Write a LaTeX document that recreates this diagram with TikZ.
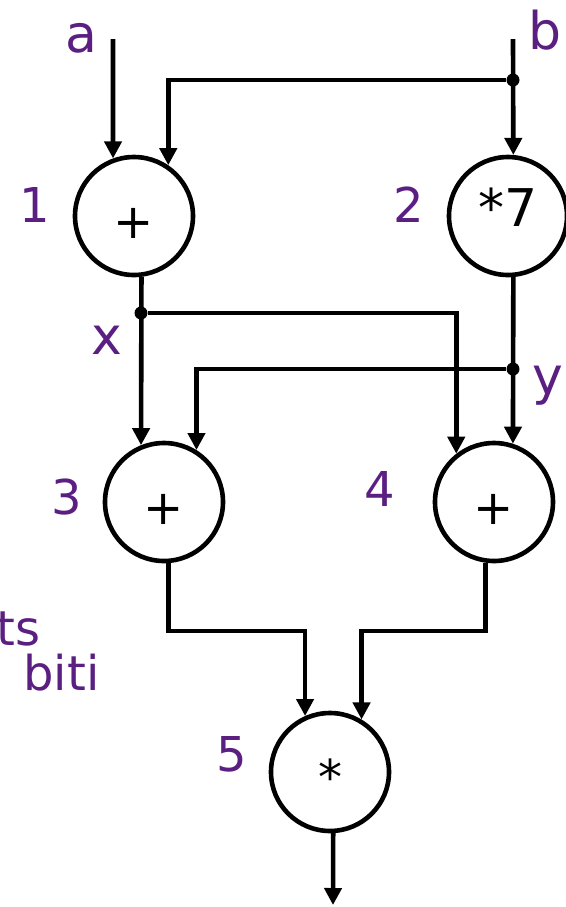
\documentclass[tikz,border=0pt]{standalone}
\usepackage{fontspec}
\setmainfont{DejaVu Sans}
\usetikzlibrary{arrows.meta, positioning, calc}
\definecolor{Plum}{HTML}{5B1F82}

\begin{document}
\begin{tikzpicture}[x=0.5pt, y=-0.5pt,
    op/.style={circle, draw, line width=2.3pt, minimum size=59pt, inner sep=0pt,
               font=\fontsize{24}{28}\selectfont},
    wire/.style={line width=2.3pt},
    feed/.style={wire, -{Triangle[length=8.5pt,width=8.5pt]}},
    dot/.style={circle, fill, inner sep=0pt, minimum size=6.5pt},
    tag/.style={text=Plum, inner sep=0pt, font=\fontsize{24}{28}\selectfont},
    var/.style={text=Plum, inner sep=0pt, font=\fontsize{26}{30}\selectfont}]
    \clip (0,0) rectangle (566,907);

    % Operations
    \node[op, text height=22pt, text depth=0pt] (c1) at (134,216) {+};
    \node[op, font=\fontsize{26}{30}\selectfont, text height=19.5pt, text depth=9.5pt] (c2) at (508,216) {*7};
    \node[op, text height=22pt, text depth=0pt] (c3) at (164,502) {+};
    \node[op, text height=22pt, text depth=0pt] (c4) at (494,502) {+};
    \node[op, text height=22.4pt, text depth=0pt] (c5) at (330,772) {*};

    % Step numbers
    \node[tag] (n1) at (35,205) {1};
    \node[tag] (n2) at (409,205) {2};
    \node[tag] (n3) at (67,497) {3};
    \node[tag] (n4) at (380,489) {4};
    \node[tag] (n5) at (232,754) {5};

    % Variables
    \node[var] (la) at (81,38) {a};
    \node[var] (lb) at (545,30) {b};
    \node[var] (lx) at (107,340) {x};
    \node[var] (ly) at (548,386) {y};
    \node[tag, anchor=base west] (ts) at (-4,645) {ts};
    \node[tag, anchor=base west] (biti) at (23,690) {biti};

    % Inputs
    \coordinate (ina) at (113,39);
    \coordinate (inb) at (513,39);
    \node[dot] (jb) at (513,80) {};
    \draw[feed] (ina) -- (c1.110);
    \draw[feed] (inb) -- (c2.85);
    \draw[feed] (jb) -| (c1.56);

    % Intermediate results
    \node[dot] (jx) at (141,313) {};
    \node[dot] (jy) at (513,369) {};
    \draw[feed] (c1.-83) -- (c3.112);
    \draw[feed] (jx) -| (c4.128);
    \draw[feed] (c2.-85) -- (c4.72);
    \draw[feed] (jy) -| (c3.58);

    % Final product
    \coordinate (bend) at (0,631);
    \coordinate (out) at (333,905);
    \draw[feed] (c3.-86) |- (bend -| c5.114) -- (c5.114);
    \draw[feed] (c4.-98) |- (bend -| c5.59) -- (c5.59);
    \draw[feed] (c5.-87) -- (out);
\end{tikzpicture}
\end{document}
